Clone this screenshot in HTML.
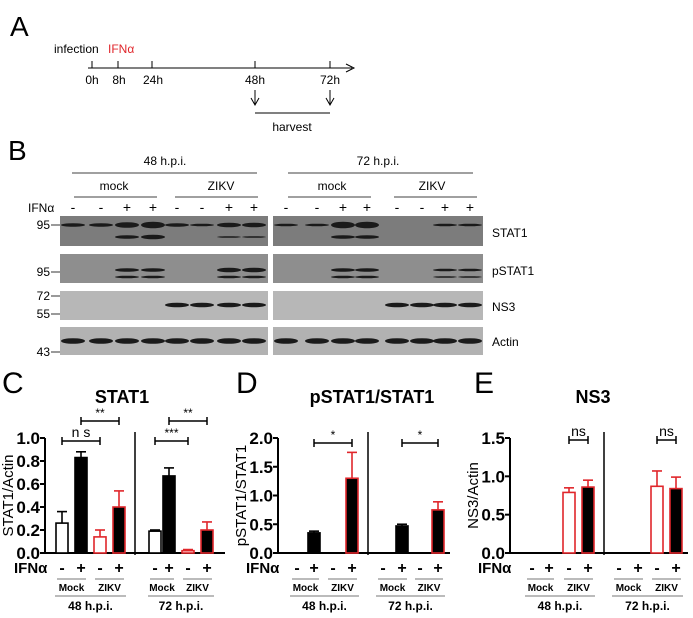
<!DOCTYPE html>
<html><head><meta charset="utf-8">
<style>
body{margin:0;background:#fff;}
svg{display:block;font-family:"Liberation Sans",Arial,sans-serif;}
</style></head>
<body>
<svg id="fig" width="693" height="618" viewBox="0 0 693 618">
<g>
<text x="10" y="36" font-size="28">A</text>
<text x="54" y="53" font-size="12">infection</text>
<text x="108" y="53" font-size="12" fill="#e0262b">IFNα</text>
<line x1="88" y1="68" x2="352" y2="68" stroke="#000" stroke-width="1"/>
<path d="M346,64 L354,68 L346,72" fill="none" stroke="#000"/>
<g stroke="#000">
<line x1="92" y1="61" x2="92" y2="68"/><line x1="118" y1="61" x2="118" y2="68"/><line x1="152" y1="61" x2="152" y2="68"/><line x1="255" y1="61" x2="255" y2="68"/><line x1="330" y1="61" x2="330" y2="68"/>
</g>
<g font-size="12" text-anchor="middle">
<text x="92" y="84">0h</text><text x="119" y="84">8h</text><text x="153" y="84">24h</text><text x="255" y="84">48h</text><text x="330" y="84">72h</text>
</g>
<g stroke="#000" fill="none">
<line x1="255" y1="90" x2="255" y2="104"/><path d="M251,98 L255,105 L259,98"/>
<line x1="330" y1="90" x2="330" y2="104"/><path d="M326,98 L330,105 L334,98"/>
<line x1="255" y1="113" x2="330" y2="113"/>
</g>
<text x="292" y="131" font-size="12" text-anchor="middle">harvest</text>
</g>
<g id="blot">
<text x="8" y="160" font-size="28">B</text>
<text x="165" y="165" font-size="12" text-anchor="middle">48 h.p.i.</text>
<line x1="72" y1="173" x2="257" y2="173" stroke="#000" stroke-width="0.8"/>
<text x="378" y="165" font-size="12" text-anchor="middle">72 h.p.i.</text>
<line x1="288" y1="173" x2="473" y2="173" stroke="#000" stroke-width="0.8"/>
<g font-size="12" text-anchor="middle">
<text x="114" y="190">mock</text>
<text x="221" y="190">ZIKV</text>
<text x="332" y="190">mock</text>
<text x="432" y="190">ZIKV</text>
</g>
<g stroke="#000" stroke-width="0.8">
<line x1="74" y1="197" x2="157" y2="197"/><line x1="175" y1="197" x2="258" y2="197"/>
<line x1="288" y1="197" x2="371" y2="197"/><line x1="394" y1="197" x2="477" y2="197"/>
</g>
<text x="28" y="212" font-size="12">IFNα</text>
<g font-size="12" text-anchor="end">
<text x="50" y="229">95</text><text x="50" y="276">95</text><text x="50" y="300">72</text><text x="50" y="318">55</text><text x="50" y="356">43</text>
</g>
<g stroke="#000" stroke-width="0.8">
<line x1="51" y1="225" x2="60" y2="225"/><line x1="51" y1="272" x2="60" y2="272"/><line x1="51" y1="296" x2="60" y2="296"/><line x1="51" y1="314" x2="60" y2="314"/><line x1="51" y1="352" x2="60" y2="352"/>
</g>
<g font-size="12">
<text x="492" y="237">STAT1</text>
<text x="492" y="275">pSTAT1</text>
<text x="492" y="311">NS3</text>
<text x="492" y="346">Actin</text>
</g>
</g>
<g id="charts"></g>
</svg>
<script>
const NS="http://www.w3.org/2000/svg";
function mk(tag,attrs,parent,txt){const e=document.createElementNS(NS,tag);for(const k in attrs)e.setAttribute(k,attrs[k]);if(txt!==undefined)e.textContent=txt;parent.appendChild(e);return e;}

const blot=document.getElementById('blot');
const laneSigns=['-','-','+','+','-','-','+','+'];
const lanesLeft=[73,101,127,153,177,202,229,254];
const lanesRight=[286,317,343,367,397,422,445,470];
const stat1UpperL=[3,3,5,6,3,2,4,4], stat1LowerL=[0,0,3,4,0,0,1,1];
const stat1UpperR=[2,2,6,6,0,0,2,2], stat1LowerR=[0,0,3,3,0,0,0,0];
const pstatUpperL=[0,0,3,3,0,0,4,4], pstatLowerL=[0,0,2,2,0,0,2,2];
const pstatUpperR=[0,0,3,3,0,0,2,2], pstatLowerR=[0,0,2,2,0,0,1,1];
const ns3L=[0,0,0,0,4,4,4,4], ns3R=[0,0,0,0,4,4,4,4];
const actinL=[5,5,5,5,5,5,5,5], actinR=[5,5,5,5,5,5,5,5];
const rows=[
 {name:'stat1',y:216,h:30,bg:'#7c7c7c',bands:[[225,stat1UpperL,stat1UpperR],[237,stat1LowerL,stat1LowerR]]},
 {name:'pstat1',y:254,h:29,bg:'#8e8e8e',bands:[[270,pstatUpperL,pstatUpperR],[277,pstatLowerL,pstatLowerR]]},
 {name:'ns3',y:291,h:29,bg:'#b7b7b7',bands:[[305,ns3L,ns3R]]},
 {name:'actin',y:327,h:28,bg:'#b2b2b2',bands:[[341,actinL,actinR]]}
];
laneSigns.forEach((s,i)=>{
 [lanesLeft[i],lanesRight[i]].forEach(x=>{
  const t=mk('text',{x:x,y:212,'font-size':14,'text-anchor':'middle'},blot,s);
  
  
 });
});
rows.forEach(r=>{
 [[60,268,lanesLeft,1],[273,483,lanesRight,2]].forEach(([x0,x1,lanes,side])=>{
  const bg=mk('rect',{x:x0,y:r.y,width:x1-x0,height:r.h,fill:r.bg},blot);
  
  
  r.bands.forEach(b=>{
   const arr=b[side];
   lanes.forEach((lx,i)=>{
    const th=arr[i]; if(!th) return;
    const e=mk('ellipse',{cx:lx,cy:b[0],rx:12,ry:th/2+0.3,fill:'#1a1a1a'},blot);
    
    
   });
  });
 });
});

const charts=document.getElementById('charts');
// Chart C
const cCategories=['Mock-','Mock+','ZIKV-','ZIKV+','Mock-','Mock+','ZIKV-','ZIKV+'];
const cValues=[0.26,0.83,0.14,0.40,0.19,0.67,0.02,0.20];
const cErrors=[0.10,0.05,0.06,0.14,0.01,0.07,0.01,0.07];
const cTicks=['0.0','0.2','0.4','0.6','0.8','1.0'];
// Chart D
const dCategories=['Mock-','Mock+','ZIKV-','ZIKV+','Mock-','Mock+','ZIKV-','ZIKV+'];
const dValues=[0,0.35,0,1.30,0,0.47,0,0.75];
const dErrors=[0,0.03,0,0.45,0,0.03,0,0.14];
const dTicks=['0.0','0.5','1.0','1.5','2.0'];
// Chart E
const eCategories=['Mock-','Mock+','ZIKV-','ZIKV+','Mock-','Mock+','ZIKV-','ZIKV+'];
const eValues=[0,0,0.79,0.86,0,0,0.87,0.84];
const eErrors=[0,0,0.06,0.09,0,0,0.20,0.15];
const eTicks=['0.0','0.5','1.0','1.5'];

const styles=[{f:'#fff',s:'#000'},{f:'#000',s:'#000'},{f:'#fff',s:'#e0262b'},{f:'#000',s:'#e0262b'}];

function chart(o){
 const g=mk('g',{},charts);
 
 
 const y0=553,yTop=438,max=o.max;
 const Y=v=>y0-(v/max)*(y0-yTop);
 const X=i=>o.xs[i];
 const lbl=mk('text',{x:o.letterX,y:393,'font-size':30},g,o.letter);
 
 
 const t=mk('text',{x:o.titleX,y:403,'font-size':18,'font-weight':'bold','text-anchor':'middle'},g,o.title);
 
 
 const yl=mk('text',{x:0,y:0,'font-size':15,'text-anchor':'middle',transform:`translate(${o.ylX},${(y0+yTop)/2}) rotate(-90)`},g,o.ylabel);
 
 
 const ax=mk('line',{x1:o.axX,y1:yTop,x2:o.axX,y2:y0,stroke:'#000','stroke-width':2},g);
 
 
 o.ticks.forEach(tk=>{
  const v=parseFloat(tk),yy=Y(v);
  mk('line',{x1:o.axX-5,y1:yy,x2:o.axX,y2:yy,stroke:'#000','stroke-width':2},g);
  const tt=mk('text',{x:o.axX-5,y:yy+6,'font-size':17,'font-weight':'bold','text-anchor':'end'},g,tk);
  
  
 });
 const xa=mk('line',{x1:o.axX,y1:y0,x2:o.xEnd,y2:y0,stroke:'#000','stroke-width':2},g);
 
 
 const sep=mk('line',{x1:o.sepX,y1:432,x2:o.sepX,y2:y0+2,stroke:'#000','stroke-width':1.5},g);
 
 
 const bw=12;
 o.values.forEach((v,i)=>{
  const st=styles[i%4];
  if(!(v>0)) return;
  const top=Y(v),et=Y(v+o.errors[i]);
  const e=mk('line',{x1:X(i),y1:et,x2:X(i),y2:top,stroke:st.s,'stroke-width':1.6},g);
  
  
  mk('line',{x1:X(i)-5,y1:et,x2:X(i)+5,y2:et,stroke:st.s,'stroke-width':1.6},g);
  const r=mk('rect',{x:X(i)-bw/2,y:top,width:bw,height:Math.max(y0-top,1),fill:st.f,stroke:st.s,'stroke-width':1.6},g);
  
  
 });
 const il=mk('text',{x:o.ifnX,y:573,'font-size':15,'font-weight':'bold'},g,'IFNα');
 
 
 o.categories.forEach((c,i)=>{
  const s=mk('text',{x:X(i),y:573,'font-size':16,'font-weight':'bold','text-anchor':'middle'},g,c.slice(-1));
  
  
 });
 [0,2,4,6].forEach(i=>{
  const cx=(X(i)+X(i+1))/2;
  mk('line',{x1:X(i)-5,y1:579,x2:X(i+1)+5,y2:579,stroke:'#777','stroke-width':1},g);
  const tx=mk('text',{x:cx,y:591,'font-size':10,'font-weight':'bold','text-anchor':'middle'},g,o.categories[i].slice(0,-1));
  
  
 });
 [0,4].forEach(i=>{
  const cx=(X(i)+X(i+3))/2;
  mk('line',{x1:X(i)-7,y1:596,x2:X(i+3)+7,y2:596,stroke:'#777','stroke-width':1},g);
  const tx=mk('text',{x:cx,y:610,'font-size':12,'font-weight':'bold','text-anchor':'middle'},g,i?'72 h.p.i.':'48 h.p.i.');
  
  
 });
 o.sig.forEach(s=>{
  const x1=X(s[0]),x2=X(s[1]),yy=s[2];
  const b=mk('path',{d:`M${x1},${yy-4}V${yy+4}M${x1},${yy}H${x2}M${x2},${yy-4}V${yy+4}`,stroke:'#000','stroke-width':1.5,fill:'none'},g);
  
  
  const st=mk('text',{x:(x1+x2)/2,y:yy-4,'font-size':s[3].indexOf('s')>=0?14:12,'text-anchor':'middle'},g,s[3]);
  
  
 });
}
chart({name:'chart-c-stat1',letter:'C',letterX:2,title:'STAT1',titleX:122,ylabel:'STAT1/Actin',ylX:13,axX:45,max:1.0,ticks:cTicks,values:cValues,errors:cErrors,categories:cCategories,xs:[62,81,100,119,155,169,188,207],xEnd:225,sepX:135,ifnX:14,
 sig:[[0,2,441,'n s'],[1,3,421,'**'],[4,6,441,'***'],[5,7,421,'**']]});
chart({name:'chart-d-pstat1-ratio',letter:'D',letterX:236,title:'pSTAT1/STAT1',titleX:372,ylabel:'pSTAT1/STAT1',ylX:246,axX:278,max:2.0,ticks:dTicks,values:dValues,errors:dErrors,categories:dCategories,xs:[297,314,333,352,383,402,420,438],xEnd:450,sepX:368,ifnX:246,
 sig:[[1,3,443,'*'],[5,7,443,'*']]});
chart({name:'chart-e-ns3',letter:'E',letterX:474,title:'NS3',titleX:593,ylabel:'NS3/Actin',ylX:478,axX:510,max:1.5,ticks:eTicks,values:eValues,errors:eErrors,categories:eCategories,xs:[532,549,569,588,619,638,657,676],xEnd:688,sepX:604,ifnX:478,
 sig:[[2,3,440,'ns'],[6,7,440,'ns']]});
</script>
</body></html>
